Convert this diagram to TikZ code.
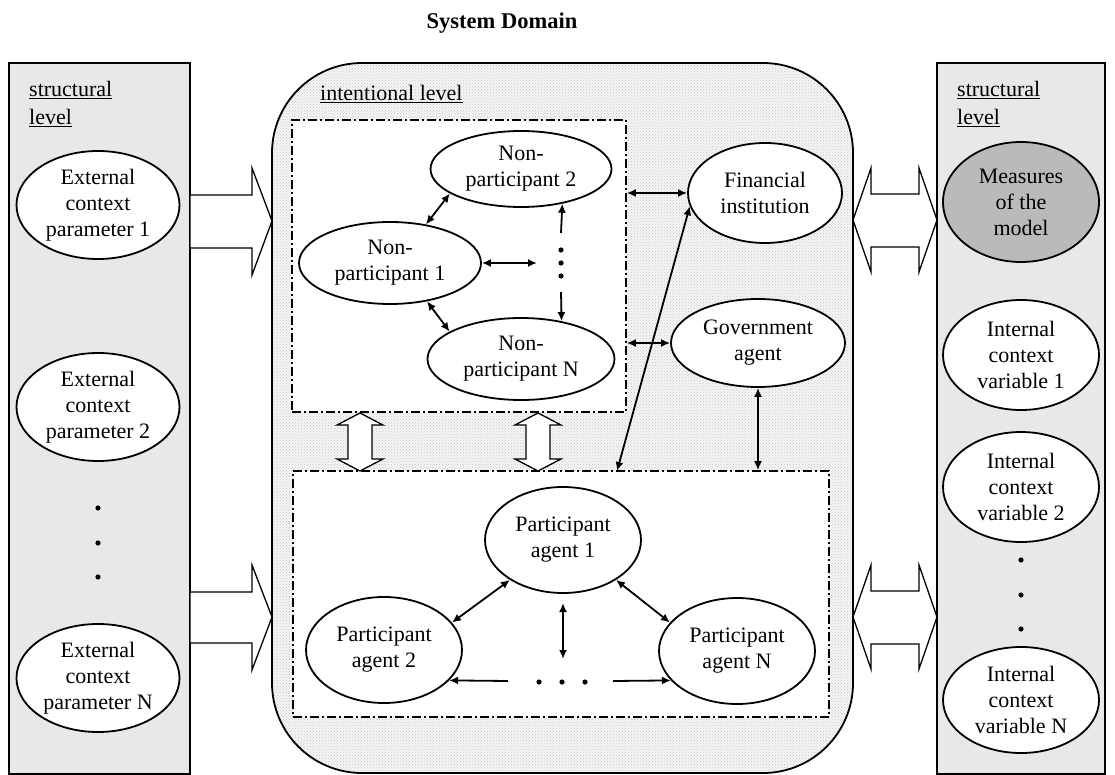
\documentclass[tikz,border=0pt]{standalone}
\usepackage{fontspec}
\setmainfont{Liberation Serif}
\usetikzlibrary{arrows.meta,shapes.geometric,patterns}

\begin{document}
\begin{tikzpicture}[x=1pt,y=-1pt,
    every node/.style={font=\fontsize{22}{26}\selectfont,align=center},
    main node/.style={ellipse,draw,line width=1.8pt,fill=white,inner sep=0pt,minimum width=156pt,minimum height=106pt},
    box node/.style={draw,line width=1.6pt,dash pattern=on 9pt off 3pt on 2pt off 3pt,fill=white,inner sep=0pt},
    level box/.style={draw,line width=1.5pt,fill=black!9},
    level label/.style={anchor=north west,inner sep=0pt,align=left,font=\fontsize{22}{28}\selectfont},
    fat arrow/.style={draw,line width=1.3pt,fill=white,line join=miter},
    link/.style={line width=1.8pt,>={Latex[length=9pt,width=8pt]}}]
    \useasboundingbox (0,0) rectangle (1115,775);

    \node[font=\bfseries\fontsize{22.5}{26}\selectfont] (title) at (502,23) {System Domain};

    % the two structural levels
    \draw[level box] (9,63) rectangle (190,774);
    \draw[level box] (937,63) rectangle (1105,774);
    \node[level label] (sl1) at (29,81) {\underline{structural}\\\underline{level}};
    \node[level label] (sl2) at (957,81) {\underline{structural}\\\underline{level}};

    % intentional level
    \draw[line width=1.8pt,rounded corners=90pt,preaction={fill=black!4},pattern=crosshatch dots,pattern color=black!22]
        (272,63) rectangle (853,773);
    \node[level label] (il) at (320,85) {\underline{intentional level}};
    \node[box node,minimum width=334pt,minimum height=292pt] (upbox) at (459,266) {};
    \node[box node,minimum width=536pt,minimum height=246pt] (lowbox) at (561,594) {};

    % fat arrows
    \draw[fat arrow] (190,195) -- (252,195) -- (252,168) -- (272,221) -- (252,275) -- (252,248) -- (190,248) -- cycle;
    \draw[fat arrow] (190,592) -- (252,592) -- (252,565) -- (272,617) -- (252,670) -- (252,643) -- (190,643) -- cycle;
    \foreach \y in {0,397}
        \draw[fat arrow] (871,194+\y) -- (919,194+\y) -- (919,168+\y) -- (937,220+\y) -- (919,272+\y) -- (919,247+\y)
            -- (871,247+\y) -- (871,272+\y) -- (853,220+\y) -- (871,168+\y) -- cycle;
    \foreach \cx in {360,538}
        \draw[fat arrow] (\cx-12,425) -- (\cx-23,425) -- (\cx,413) -- (\cx+23,425) -- (\cx+12,425) -- (\cx+12,459)
            -- (\cx+23,459) -- (\cx,471) -- (\cx-23,459) -- (\cx-12,459) -- cycle;

    % external context
    \node[main node,minimum width=163pt,minimum height=108pt] (e1) at (98,205) {External\\context\\parameter 1};
    \node[main node,minimum width=163pt,minimum height=108pt] (e2) at (98,407) {External\\context\\parameter 2};
    \node[main node,minimum width=163pt,minimum height=108pt] (eN) at (98,678) {External\\context\\parameter N};
    \foreach \y in {508,543,577} \fill (98,\y) circle (2.6pt);

    % internal context
    \node[main node,minimum height=120pt,fill=black!27] (meas) at (1021,202) {Measures\\of the\\model};
    \node[main node,minimum height=110pt] (iv1) at (1021,355) {Internal\\context\\variable 1};
    \node[main node,minimum height=110pt] (iv2) at (1021,487) {Internal\\context\\variable 2};
    \node[main node] (ivN) at (1021,700) {Internal\\context\\variable N};
    \foreach \y in {560,595,629} \fill (1021,\y) circle (2.6pt);

    % non-participants
    \node[main node,minimum width=182pt,minimum height=82pt] (np1) at (390,263) {Non-\\participant 1};
    \node[main node,minimum width=181pt,minimum height=76pt] (np2) at (521,169) {Non-\\participant 2};
    \node[main node,minimum width=187pt,minimum height=82pt] (npN) at (521,359) {Non-\\participant N};
    \foreach \y in {250,263,276} \fill (561,\y) circle (2.6pt);

    \node[main node,minimum width=154pt,minimum height=100pt] (fin) at (765,193) {Financial\\institution};
    \node[main node,minimum width=174pt,minimum height=88pt] (gov) at (758,343) {Government\\agent};

    % participants
    \node[main node] (pa1) at (563,540) {Participant\\agent 1};
    \node[main node] (pa2) at (384,650) {Participant\\agent 2};
    \node[main node] (paN) at (737,651) {Participant\\agent N};
    \foreach \x in {539,562,585} \fill (\x,682) circle (2.6pt);

    \coordinate (npd) at (537,263);
    \coordinate (npu) at (561,233);
    \coordinate (npl) at (561,292);
    \coordinate (fa) at (617,471);
    \coordinate (pav1) at (563,603);
    \coordinate (pav2) at (563,659);
    \coordinate (pal) at (508,681);
    \coordinate (par) at (613,681);

    \path[link]
        (np1.47) edge[<->] (np2.199)
        (np1.314) edge[<->] (npN.159)
        (np1.east) edge[<->] (npd)
        (npu) edge[->] (np2.320)
        (npl) edge[->] (npN.43)
        (upbox.east |- fin.west) edge[<->] (fin.west)
        (upbox.east |- gov.west) edge[<->] (gov.west)
        (fa) edge[<->] (fin.190)
        (gov.south) edge[<->] (gov.south |- lowbox.north)
        (pa1.217) edge[<->] (pa2.22)
        (pa1.323) edge[<->] (paN.157)
        (pav1) edge[<->] (pav2)
        (pal) edge[->] (pa2.335)
        (par) edge[->] (paN.204);

\end{tikzpicture}
\end{document}
